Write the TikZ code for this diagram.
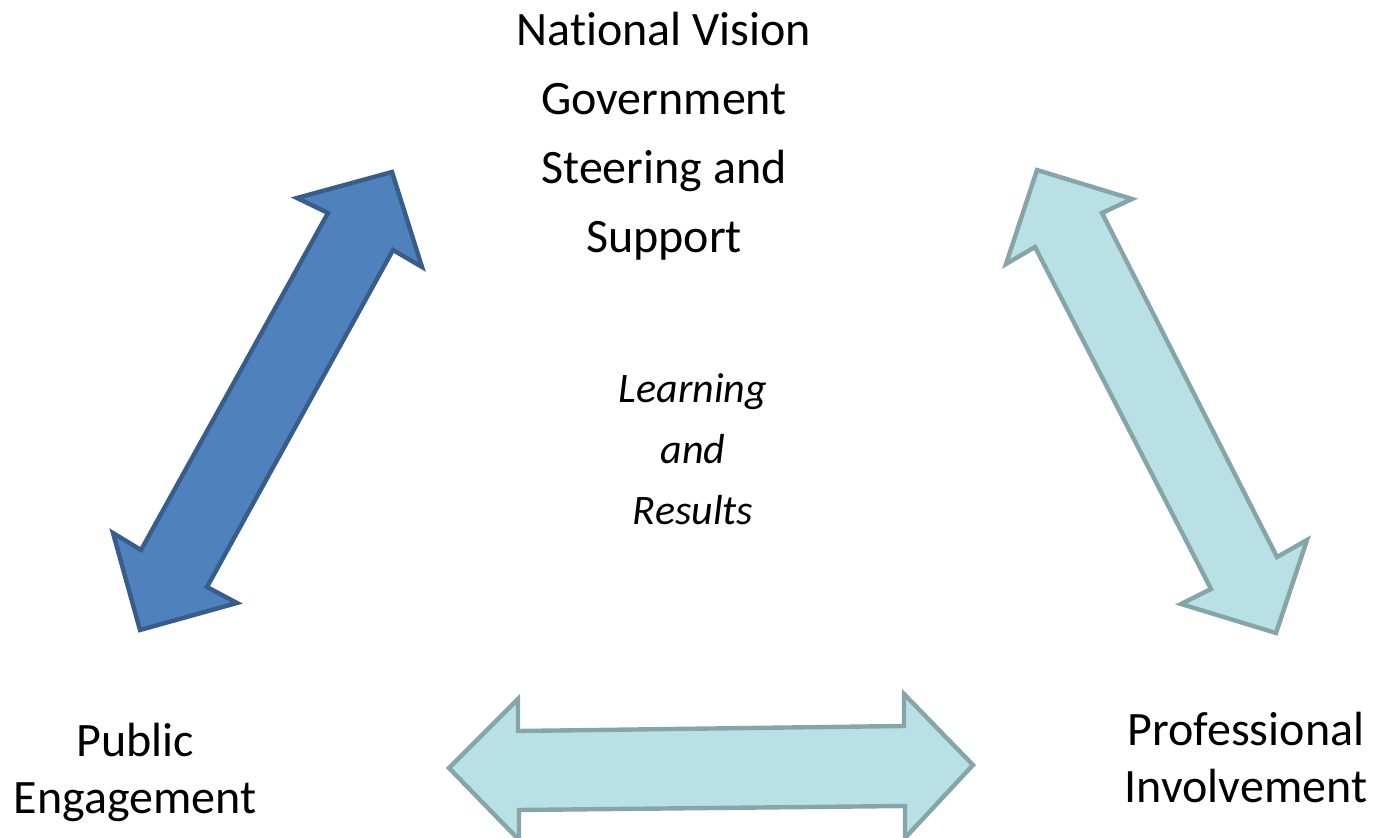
\documentclass[tikz,border=0pt]{standalone}
\usepackage{fontspec}
\setmainfont[Ligatures=NoCommon]{Carlito}
\definecolor{darkfill}{HTML}{4F81BD}
\definecolor{darkline}{HTML}{385D8A}
\definecolor{lightfill}{RGB}{185,224,228}
\definecolor{lightline}{RGB}{134,165,168}
\tikzset{
  darkarrow/.style={fill=darkfill,draw=darkline,line width=2.2pt,line join=miter},
  lightarrow/.style={fill=lightfill,draw=lightline,line width=2.2pt,line join=miter},
  mainlabel/.style={align=center,inner sep=0pt,font=\fontsize{24pt}{34.5pt}\selectfont},
  midlabel/.style={align=center,inner sep=0pt,font=\fontsize{21pt}{30.5pt}\selectfont\itshape},
  cornerlabel/.style={align=center,inner sep=0pt,font=\fontsize{24pt}{28.5pt}\selectfont}
}
\begin{document}
\begin{tikzpicture}[x=0.5pt,y=-0.5pt]
\useasboundingbox (0,0) rectangle (1374,838);
\begin{scope}
\clip (0,0) rectangle (1374,838);
% left double arrow (dark blue)
\draw[darkarrow] (392,172) -- (422,267) -- (393,250) -- (207,587) -- (237,603) -- (140,630)
  -- (113,533) -- (141,550) -- (328,213) -- (297,198) -- cycle;
% right double arrow (light teal)
\draw[lightarrow] (1037,170) -- (1132,199) -- (1102,213) -- (1277,557) -- (1307,540) -- (1276,633)
  -- (1181,604) -- (1211,589) -- (1035,247) -- (1006,264) -- cycle;
% bottom double arrow (light teal)
\draw[lightarrow] (449,768) -- (518,699) -- (518,731) -- (904,726) -- (904,694) -- (973,765)
  -- (905,838) -- (905,806) -- (519,810) -- (519,840) -- cycle;
\end{scope}
\node[mainlabel] (top) at (664,136) {National Vision\\Government\\Steering and\\Support};
\node[midlabel] (mid) at (693,449) {Learning\\and\\Results};
\node[cornerlabel] (pub) at (135,772) {Public\\Engagement};
\node[cornerlabel] (pro) at (1246,758) {Professional\\Involvement};
\end{tikzpicture}
\end{document}
